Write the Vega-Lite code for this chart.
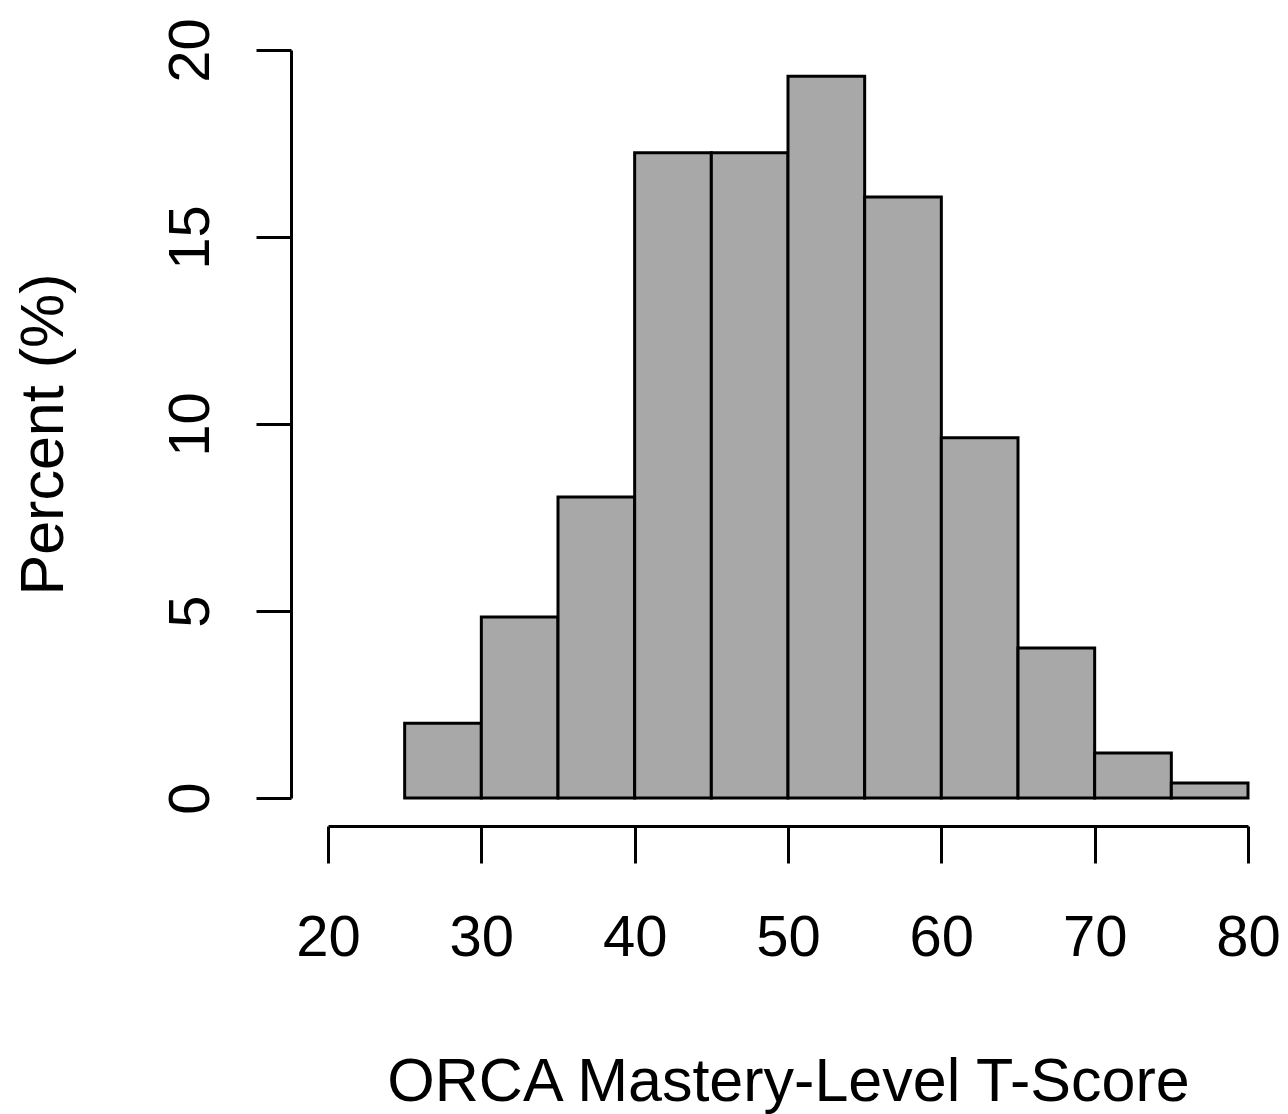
{
  "$schema": "https://vega.github.io/schema/vega-lite/v6.json",
  "autosize": {"type": "none"},
  "padding": {"left": 328, "top": 50, "right": 40, "bottom": 316},
  "width": 920,
  "height": 748,
  "background": "white",
  "config": {
    "view": {"stroke": null},
    "axis": {
      "grid": false,
      "domainColor": "black",
      "domainWidth": 3,
      "tickColor": "black",
      "tickWidth": 3,
      "labelFont": "Liberation Sans",
      "labelFontSize": 58,
      "labelColor": "black",
      "titleFont": "Liberation Sans",
      "titleFontSize": 61,
      "titleFontWeight": "normal",
      "titleColor": "black"
    }
  },
  "data": {
    "values": [
      {"start": 25, "end": 30, "percent": 2.0},
      {"start": 30, "end": 35, "percent": 4.84},
      {"start": 35, "end": 40, "percent": 8.05},
      {"start": 40, "end": 45, "percent": 17.25},
      {"start": 45, "end": 50, "percent": 17.25},
      {"start": 50, "end": 55, "percent": 19.3},
      {"start": 55, "end": 60, "percent": 16.07},
      {"start": 60, "end": 65, "percent": 9.63},
      {"start": 65, "end": 70, "percent": 4.01},
      {"start": 70, "end": 75, "percent": 1.2},
      {"start": 75, "end": 80, "percent": 0.4}
    ]
  },
  "mark": {"type": "rect", "fill": "#a8a8a8", "stroke": "black", "strokeWidth": 3},
  "encoding": {
    "x": {
      "field": "start",
      "type": "quantitative",
      "scale": {"domain": [20, 80], "nice": false, "zero": false},
      "axis": {
        "title": "ORCA Mastery-Level T-Score",
        "values": [20, 30, 40, 50, 60, 70, 80],
        "offset": 28,
        "tickSize": 37,
        "labelPadding": 92,
        "labelBaseline": "alphabetic",
        "labelFlush": false,
        "labelOverlap": false,
        "titleBaseline": "alphabetic",
        "titleY": 274
      }
    },
    "x2": {"field": "end"},
    "y": {
      "field": "percent",
      "type": "quantitative",
      "scale": {"domain": [0, 20], "nice": false},
      "axis": {
        "title": "Percent (%)",
        "values": [0, 5, 10, 15, 20],
        "offset": 37,
        "tickSize": 35,
        "labelAngle": 270,
        "labelAlign": "center",
        "labelBaseline": "alphabetic",
        "labelPadding": 48,
        "labelFlush": false,
        "labelOverlap": false,
        "titleAngle": 270,
        "titleBaseline": "alphabetic",
        "titleX": -229,
        "titleY": 384
      }
    },
    "y2": {"datum": 0}
  }
}
